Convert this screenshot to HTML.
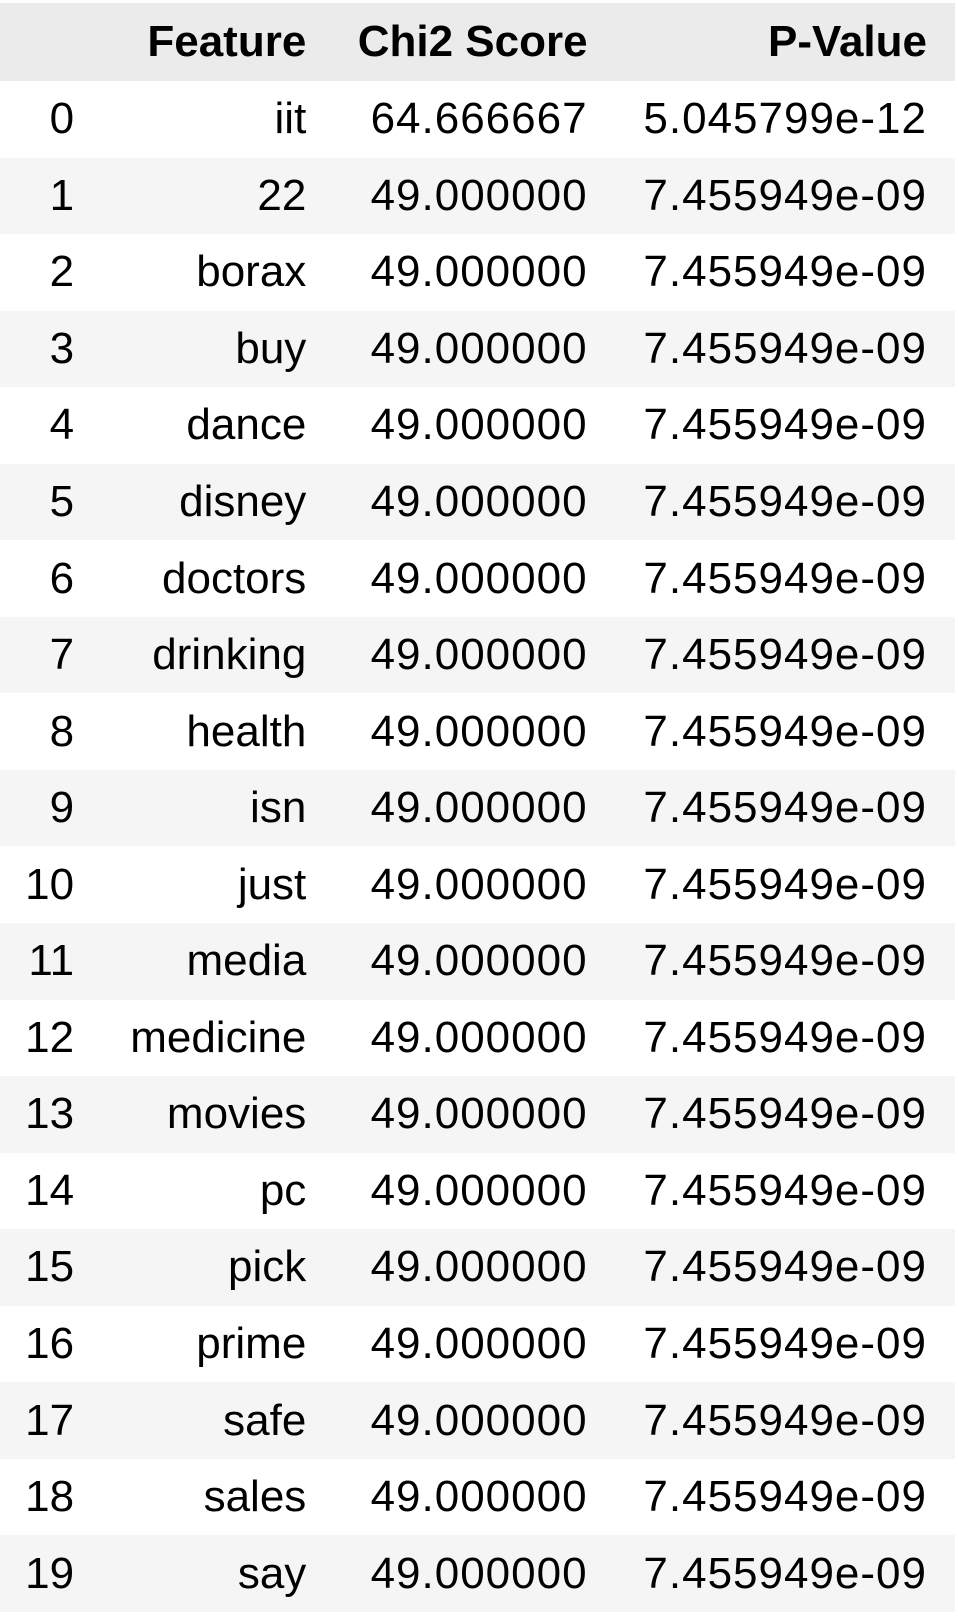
<!DOCTYPE html>
<html><head><meta charset="utf-8"><style>
html,body{margin:0;padding:0;background:#fff;width:958px;height:1616px;overflow:hidden}
table{position:absolute;left:0;top:3px;width:955px;border-collapse:collapse;font-family:"Liberation Sans",sans-serif;font-size:44px;color:#000}
th,td{padding:0;text-align:right;white-space:nowrap}
thead tr{background:#ebebeb;height:78px}
th{font-weight:bold}
tbody tr{height:76.55px}
tbody tr:nth-child(even){background:#f5f5f5}
.c0{width:74px}
.c1{width:232px}
.c2{width:281px}
.c3{width:339px}
td.c2,td.c3{letter-spacing:1px}
td.c3,th.c3{padding-right:28px}
td.c2{padding-right:0}
</style></head><body>
<table>
<thead><tr>
<th class="c0"></th>
<th class="c1">Feature</th>
<th class="c2">Chi2 Score</th>
<th class="c3">P-Value</th>
</tr></thead>
<tbody id="tb"></tbody>
</table>
<script>
const features=["iit","22","borax","buy","dance","disney","doctors","drinking","health","isn","just","media","medicine","movies","pc","pick","prime","safe","sales","say"];
const scores=["64.666667"].concat(Array(19).fill("49.000000"));
const pvalues=["5.045799e-12"].concat(Array(19).fill("7.455949e-09"));
const tb=document.getElementById('tb');
features.forEach((f,i)=>{
  const tr=document.createElement('tr');
  
  
  [[String(i),'c0','row-index'],[f,'c1','feature-cell'],[scores[i],'c2','chi2-score-cell'],[pvalues[i],'c3','p-value-cell']].forEach(c=>{
    const td=document.createElement('td');
    td.className=c[1];
    td.textContent=c[0];
    
    
    tr.appendChild(td);
  });
  tb.appendChild(tr);
});
</script>
</body></html>
